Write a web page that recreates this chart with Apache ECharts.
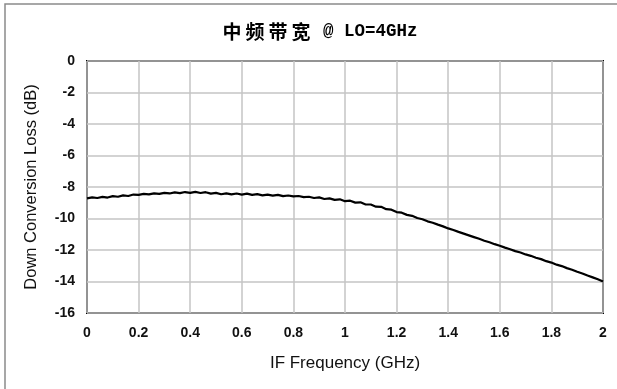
<!DOCTYPE html>
<html>
<head>
<meta charset="utf-8">
<script src="https://cdn.jsdelivr.net/npm/echarts@6/dist/echarts.min.js"></script>
<style>html,body{margin:0;padding:0;background:#fff;}#c{width:617px;height:389px;}</style>
</head>
<body>
<div id="c"></div>
<script>
var titleChars = ['中','频','带','宽'];
var titleLatin = ' @ LO=4GHz';
var xAxisName = 'IF Frequency (GHz)';
var yAxisName = 'Down Conversion Loss (dB)';

var freqGHz = [
  0.00,0.02,0.04,0.06,0.08,0.10,0.12,0.14,0.16,0.18,
  0.20,0.22,0.24,0.26,0.28,0.30,0.32,0.34,0.36,0.38,
  0.40,0.42,0.44,0.46,0.48,0.50,0.52,0.54,0.56,0.58,
  0.60,0.62,0.64,0.66,0.68,0.70,0.72,0.74,0.76,0.78,
  0.80,0.82,0.84,0.86,0.88,0.90,0.92,0.94,0.96,0.98,
  1.00,1.02,1.04,1.06,1.08,1.10,1.12,1.14,1.16,1.18,
  1.20,1.22,1.24,1.26,1.28,1.30,1.32,1.34,1.36,1.38,
  1.40,1.42,1.44,1.46,1.48,1.50,1.52,1.54,1.56,1.58,
  1.60,1.62,1.64,1.66,1.68,1.70,1.72,1.74,1.76,1.78,
  1.80,1.82,1.84,1.86,1.88,1.90,1.92,1.94,1.96,1.98,
  2.00
];
var lossDb = [
  -8.72,-8.66,-8.70,-8.63,-8.67,-8.58,-8.62,-8.53,-8.57,-8.48,
  -8.50,-8.44,-8.47,-8.40,-8.44,-8.37,-8.41,-8.34,-8.39,-8.32,
  -8.37,-8.31,-8.38,-8.33,-8.42,-8.37,-8.46,-8.40,-8.47,-8.41,
  -8.48,-8.42,-8.50,-8.45,-8.53,-8.48,-8.55,-8.50,-8.58,-8.54,
  -8.60,-8.57,-8.64,-8.62,-8.70,-8.66,-8.76,-8.72,-8.82,-8.78,
  -8.90,-8.87,-8.99,-8.97,-9.11,-9.11,-9.25,-9.26,-9.41,-9.44,
  -9.59,-9.63,-9.77,-9.83,-9.97,-10.05,-10.18,-10.27,-10.39,-10.50,
  -10.63,-10.73,-10.85,-10.96,-11.07,-11.18,-11.29,-11.41,-11.51,-11.63,
  -11.73,-11.85,-11.95,-12.07,-12.16,-12.28,-12.37,-12.49,-12.58,-12.71,
  -12.80,-12.93,-13.02,-13.15,-13.25,-13.38,-13.49,-13.62,-13.74,-13.86,
  -14.00
];
var xTicks = [0,0.2,0.4,0.6,0.8,1,1.2,1.4,1.6,1.8,2];
var yTicks = [0,-2,-4,-6,-8,-10,-12,-14,-16];

var chart = echarts.init(document.getElementById('c'), null, {renderer:'canvas'});
var data = freqGHz.map(function(f,i){return [f, lossDb[i]];});
var sans = "'Liberation Sans',Arial,sans-serif";
var titleRich = titleChars.map(function(c){return '{c|' + c + '}';}).join('') + '{l|' + titleLatin + '}';
chart.setOption({
  animation:false,
  backgroundColor:'#fff',
  title:{
    text:titleRich, left:314, top:17, textAlign:'center',
    textStyle:{
      fontFamily:"'Liberation Mono','Noto Sans CJK SC',monospace",fontSize:19,fontWeight:'bold',color:'#000',
      rich:{
        c:{fontFamily:"'Noto Sans CJK SC',sans-serif",fontSize:19,fontWeight:'bold',color:'#000',padding:[0,2,0,2]},
        l:{fontFamily:"'Liberation Mono',monospace",fontSize:17.5,fontWeight:'bold',color:'#000'}
      }
    }
  },
  graphic:[{
    type:'rect', shape:{x:5,y:4,width:640,height:420},
    style:{fill:'none',stroke:'#8a8a8a',lineWidth:1.5}, silent:true
  }],
  grid:{left:87,top:61,width:516,height:252,show:true,borderColor:'#000',borderWidth:2,backgroundColor:'transparent'},
  xAxis:{
    type:'value', min:0, max:2, interval:0.2,
    name:xAxisName, nameLocation:'middle', nameGap:42,
    nameTextStyle:{fontFamily:sans,fontSize:17,fontWeight:500,color:'#111'},
    axisLine:{show:false}, axisTick:{show:false},
    axisLabel:{margin:13,fontFamily:sans,fontSize:14,fontWeight:'bold',color:'#111',
      formatter:function(v){return String(Math.round(v*10)/10);}},
    splitLine:{show:true,lineStyle:{color:'#c4c4c4',width:1.5}}
  },
  yAxis:{
    type:'value', min:-16, max:0, interval:2,
    name:yAxisName, nameLocation:'middle', nameGap:47, nameRotate:90,
    nameTextStyle:{fontFamily:sans,fontSize:16.5,fontWeight:500,color:'#111'},
    axisLine:{show:false}, axisTick:{show:false},
    axisLabel:{margin:12,fontFamily:sans,fontSize:14,fontWeight:'bold',color:'#111'},
    splitLine:{show:true,lineStyle:{color:'#c4c4c4',width:1.5}}
  },
  series:[{
    type:'line', data:data, showSymbol:false, smooth:false,
    lineStyle:{color:'#000',width:2.2}
  }]
});
</script>
</body>
</html>
